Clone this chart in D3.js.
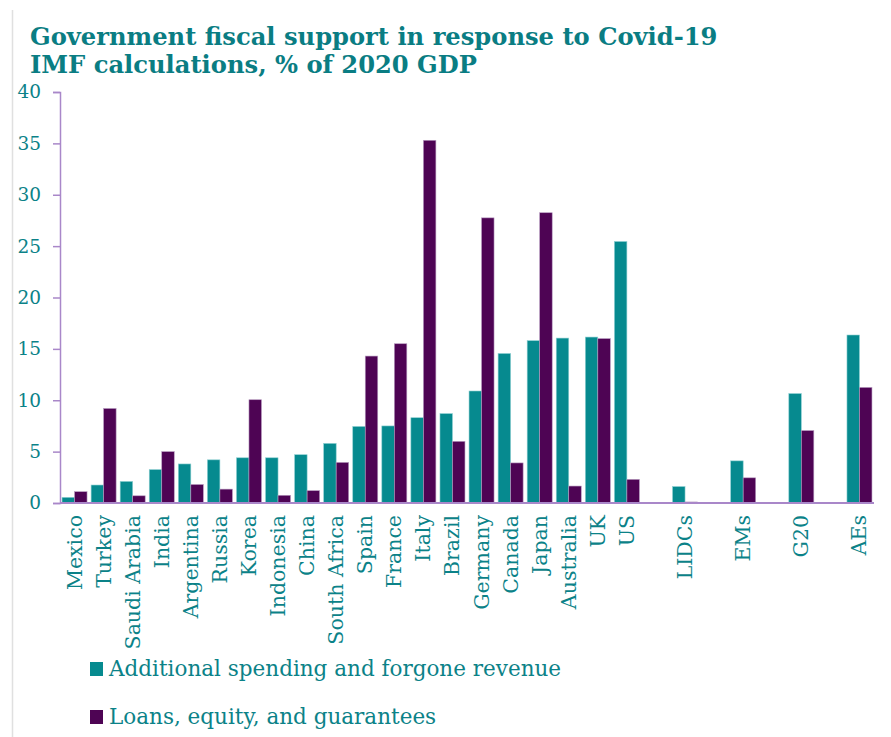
<!DOCTYPE html>
<html>
<head>
<meta charset="utf-8">
<script src="https://cdn.jsdelivr.net/npm/d3@7"></script>
<style>
  body { margin: 0; background: #fff; }
  svg { display: block; font-family: "DejaVu Serif", Georgia, serif; }
</style>
</head>
<body>
<svg id="chart" width="891" height="737"></svg>
<script>
// chart data
const countries = ['Mexico', 'Turkey', 'Saudi Arabia', 'India', 'Argentina', 'Russia', 'Korea',
  'Indonesia', 'China', 'South Africa', 'Spain', 'France', 'Italy', 'Brazil', 'Germany',
  'Canada', 'Japan', 'Australia', 'UK', 'US'];
const groups = ['LIDCs', 'EMs', 'G20', 'AEs'];

const spending = [0.55, 1.75, 2.1, 3.25, 3.8, 4.2, 4.4, 4.4, 4.7, 5.8, 7.45, 7.5, 8.3, 8.7, 10.9,
  14.55, 15.8, 16.05, 16.15, 25.45,
  1.6, 4.1, 10.65, 16.35];
const loans = [1.1, 9.2, 0.7, 5.0, 1.8, 1.35, 10.05, 0.75, 1.2, 3.95, 14.3, 15.5, 35.3, 6.0, 27.75,
  3.9, 28.25, 1.65, 16.0, 2.3,
  0.1, 2.45, 7.05, 11.25];

const yTicks = [0, 5, 10, 15, 20, 25, 30, 35, 40];
const seriesNames = ['Additional spending and forgone revenue', 'Loans, equity, and guarantees'];

const teal = '#068a8f';
const purple = '#4e0454';
const textTeal = '#0b8288';
const axisCol = '#a987c9';

const labels = countries.concat(groups);
const rows = labels.map((name, i) => ({ name, s: spending[i], l: loans[i] }));

// the aggregates sit on every other slot, with an empty slot before each
const slots = countries.slice();
groups.forEach((g, i) => { slots.push('_gap' + i); slots.push(g); });

const svg = d3.select('#chart');

const margin = { left: 60, right: 17, top: 92, bottom: 234 };
const width = 891 - margin.left - margin.right;
const height = 737 - margin.top - margin.bottom;

// thin grey rule down the left edge
svg.append('line')
  .attr('x1', 12.5).attr('x2', 12.5)
  .attr('y1', 10).attr('y2', 737)
  .attr('stroke', '#e0e0e0').attr('stroke-width', 1.5);

svg.append('text')
  .attr('x', 30).attr('y', 45)
  .attr('fill', '#0a7d83')
  .attr('font-weight', 'bold')
  .attr('font-size', 24.2)
  .text('Government fiscal support in response to Covid-19');
svg.append('text')
  .attr('x', 30).attr('y', 73)
  .attr('fill', '#0a7d83')
  .attr('font-weight', 'bold')
  .attr('font-size', 24.2)
  .text('IMF calculations, % of 2020 GDP');

const g = svg.append('g').attr('transform', `translate(${margin.left},${margin.top})`);

const x = d3.scaleBand().domain(slots).range([0, width]).paddingInner(0.14).paddingOuter(0.07);
const x1 = d3.scaleBand().domain(['s', 'l']).range([0, x.bandwidth()]);
const y = d3.scaleLinear().domain([0, 40]).range([height, 0]);

// y axis
const yAxis = g.append('g')
  .call(d3.axisLeft(y).tickValues(yTicks).tickSize(7).tickPadding(12).tickFormat(d3.format('d')));
yAxis.select('.domain').attr('stroke', axisCol).attr('stroke-width', 1.5);
yAxis.selectAll('.tick line').attr('stroke', axisCol).attr('stroke-width', 1.5);
yAxis.selectAll('.tick text')
  .attr('fill', textTeal)
  .attr('font-family', '"DejaVu Serif", Georgia, serif')
  .attr('font-size', 18.5);

// bars
const grp = g.selectAll('.grp')
  .data(rows)
  .join('g')
  .attr('class', 'grp')
  .attr('transform', d => `translate(${x(d.name)},0)`);

grp.append('rect')
  .attr('x', x1('s'))
  .attr('width', x1.bandwidth())
  .attr('y', d => y(d.s))
  .attr('height', d => y(0) - y(d.s))
  .attr('fill', teal)
  .attr('stroke', '#8fd0d2').attr('stroke-width', 0.6);

grp.append('rect')
  .attr('x', x1('l'))
  .attr('width', x1.bandwidth())
  .attr('y', d => y(d.l))
  .attr('height', d => y(0) - y(d.l))
  .attr('fill', purple)
  .attr('stroke', '#b79bc0').attr('stroke-width', 0.6);

// x axis line
g.append('line')
  .attr('x1', 0).attr('x2', width)
  .attr('y1', y(0)).attr('y2', y(0))
  .attr('stroke', axisCol).attr('stroke-width', 2);

// category labels, rotated
g.selectAll('.xlab')
  .data(labels)
  .join('text')
  .attr('class', 'xlab')
  .attr('transform', d => `translate(${x(d) + x.bandwidth() / 2 + 7},${height + 12}) rotate(-90)`)
  .attr('text-anchor', 'end')
  .attr('fill', textTeal)
  .attr('font-size', 20.5)
  .text(d => d);

// legend
const legend = svg.append('g').attr('transform', 'translate(90,0)');
[teal, purple].forEach((c, i) => {
  const ly = 662 + i * 48;
  legend.append('rect')
    .attr('x', 0).attr('y', ly)
    .attr('width', 13).attr('height', 14)
    .attr('fill', c);
  legend.append('text')
    .attr('x', 19).attr('y', ly + 14)
    .attr('fill', textTeal)
    .attr('font-size', 21.5)
    .text(seriesNames[i]);
});
</script>
</body>
</html>
